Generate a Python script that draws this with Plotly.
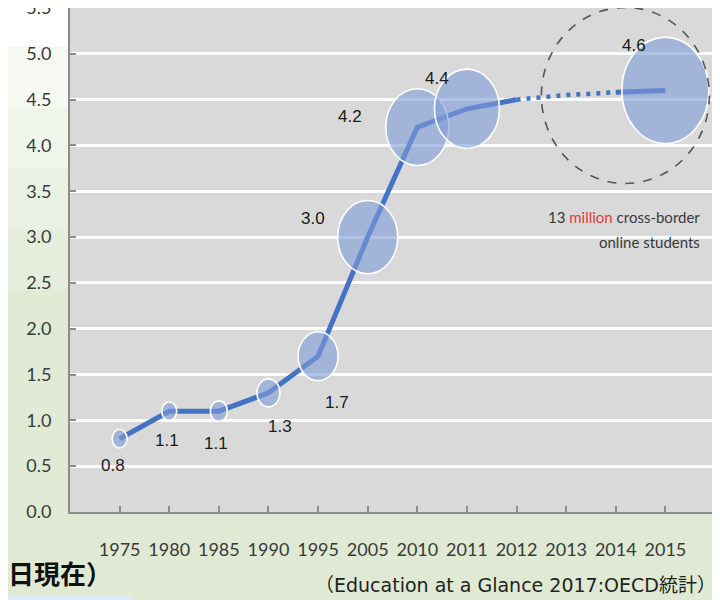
import plotly.graph_objects as go

# ---- data ----
years = ["1975", "1980", "1985", "1990", "1995", "2005", "2010", "2011",
         "2012", "2013", "2014", "2015"]
values = [0.8, 1.1, 1.1, 1.3, 1.7, 3.0, 4.2, 4.4, 4.5, 4.55, 4.58, 4.6]
bubble_size = [15, 15, 17, 23, 40, 60, 63, 65, None, None, None, 87]
projected = [False, False, False, False, False, False, False, False,
             False, True, False, False]  # 2012-2014 drawn dotted
y_ticks = [0.0, 0.5, 1.0, 1.5, 2.0, 2.5, 3.0, 3.5, 4.0, 4.5, 5.0, 5.5]

# ---- styles ----
LINE_COLOR = "#4472c4"
BUBBLE_FILL = "rgba(127,155,217,0.6)"
BUBBLE_ASPECT = 1.22
TEXT_COLOR = "#3a3a3a"
# label offsets (px) relative to point: (dx, dy_up)
label_offsets = [(-7, -27), (-2, -29), (-3, -32), (12, -34), (19, -46),
                 (-55, 19), (-67, 11), (-30, 30), None, None, None, (-31, 45)]

idx = list(range(len(years)))

# solid line: break where projected
solid_y = [None if p else v for v, p in zip(values, projected)]
dot_x, dot_y = [], []
for i, (v, p) in enumerate(zip(values, projected)):
    if p or (i + 1 < len(projected) and projected[i + 1]) or (i > 0 and projected[i - 1]):
        dot_x.append(i)
        dot_y.append(v)

fig = go.Figure()
fig.add_trace(go.Scatter(x=idx, y=solid_y, mode="lines", connectgaps=False,
                         line=dict(color=LINE_COLOR, width=5), hoverinfo="skip"))
fig.add_trace(go.Scatter(x=dot_x, y=dot_y, mode="lines",
                         line=dict(color=LINE_COLOR, width=4.5, dash="4px,6px"),
                         hoverinfo="skip"))

shapes = []
# background decoration (outside plot area); paper coords relative to plot domain
bands = [(1.05, 0.922, "#ffffff"), (0.922, 0.80, "#f6f9f2"), (0.80, 0.68, "#f0f5ea"),
         (0.68, 0.56, "#eaf1e3"), (0.56, 0.44, "#e5eedc"), (0.44, 0.0, "#e0ead5")]
for top, bot, col in bands:
    shapes.append(dict(type="rect", xref="paper", yref="paper", layer="below",
                       x0=-0.11, x1=0.0, y0=bot, y1=top, fillcolor=col, line_width=0))
shapes.append(dict(type="rect", xref="paper", yref="paper", layer="below",
                   x0=-0.11, x1=1.03, y0=1.0, y1=1.05, fillcolor="#ffffff", line_width=0))
shapes.append(dict(type="rect", xref="paper", yref="paper", layer="below",
                   x0=1.0, x1=1.03, y0=0.922, y1=1.05, fillcolor="#ffffff", line_width=0))

# bubbles
for i, (v, s) in enumerate(zip(values, bubble_size)):
    if s is None:
        continue
    h = s * BUBBLE_ASPECT
    shapes.append(dict(type="circle", layer="above",
                       xref="x", yref="y", xsizemode="pixel", ysizemode="pixel",
                       xanchor=i, yanchor=v,
                       x0=-s / 2, x1=s / 2, y0=-h / 2, y1=h / 2,
                       fillcolor=BUBBLE_FILL, line=dict(color="white", width=1.6)))

# dashed highlight circle around the last point
last = len(values) - 1
shapes.append(dict(type="circle", layer="above",
                   xref="x", yref="y", xsizemode="pixel", ysizemode="pixel",
                   xanchor=last, yanchor=values[last],
                   x0=-124, x1=44, y0=-93, y1=83,
                   fillcolor="rgba(0,0,0,0)",
                   line=dict(color="#555555", width=1.6, dash="dash")))

annotations = []
for i, (v, s, off) in enumerate(zip(values, bubble_size, label_offsets)):
    if s is None or off is None:
        continue
    annotations.append(dict(x=i, y=v, xref="x", yref="y", text=f"{v:.1f}",
                            showarrow=False, xshift=off[0], yshift=off[1],
                            font=dict(family="Liberation Sans", size=17, color="#1a1a1a")))

annotations.append(dict(x=11.74, y=3.22, xref="x", yref="y", xanchor="right",
                        text="13 <span style='color:#e8393a'>million</span> cross-border",
                        showarrow=False,
                        font=dict(family="Lato", size=15, color=TEXT_COLOR)))
annotations.append(dict(x=11.74, y=2.95, xref="x", yref="y", xanchor="right",
                        text="online students", showarrow=False,
                        font=dict(family="Lato", size=15, color=TEXT_COLOR)))
annotations.append(dict(x=-0.1, y=-0.121, xref="paper", yref="paper",
                        xanchor="left", yanchor="middle", text="<b>日現在）</b>",
                        showarrow=False,
                        font=dict(family="Noto Sans CJK JP", size=26, color="#111111")))
annotations.append(dict(x=1.005, y=-0.145, xref="paper", yref="paper",
                        xanchor="right", yanchor="middle",
                        text="（Education at a Glance 2017:OECD統計）",
                        showarrow=False,
                        font=dict(family="DejaVu Sans, Noto Sans CJK JP", size=19,
                                  color="#222222")))
shapes.append(dict(type="rect", xref="paper", yref="paper", layer="above",
                   x0=-0.11, x1=0.096, y0=-0.18, y1=-0.165, fillcolor="#dbeaf7", line_width=0))

fig.update_layout(
    width=720, height=600,
    margin=dict(l=62, r=13, t=0, b=96),
    paper_bgcolor="#dfe9d3",
    plot_bgcolor="#d9d9d9",
    showlegend=False,
    shapes=shapes,
    annotations=annotations,
    xaxis=dict(range=[-1, 12], tickvals=list(range(-1, 13)),
               ticktext=[""] + years + [""], automargin=False,
               showgrid=False, zeroline=False, showline=True,
               linecolor="#8c8c8c", linewidth=2, ticks="inside", ticklen=6,
               tickcolor="#8c8c8c", tickwidth=1.5, ticklabelstandoff=20,
               tickfont=dict(family="Lato", size=18, color=TEXT_COLOR)),
    yaxis=dict(range=[0, 5.5], tickvals=y_ticks, automargin=False,
               ticktext=[f"{t:.1f}" for t in y_ticks], ticklabeloverflow="allow",
               showgrid=True, gridcolor="#ffffff", gridwidth=3, zeroline=False,
               showline=True, linecolor="#8c8c8c", linewidth=2, ticks="inside",
               ticklen=6, tickcolor="#8c8c8c", tickwidth=1.5, ticklabelstandoff=13,
               tickfont=dict(family="Lato", size=18, color=TEXT_COLOR)),
)

fig.write_html("out.html")
